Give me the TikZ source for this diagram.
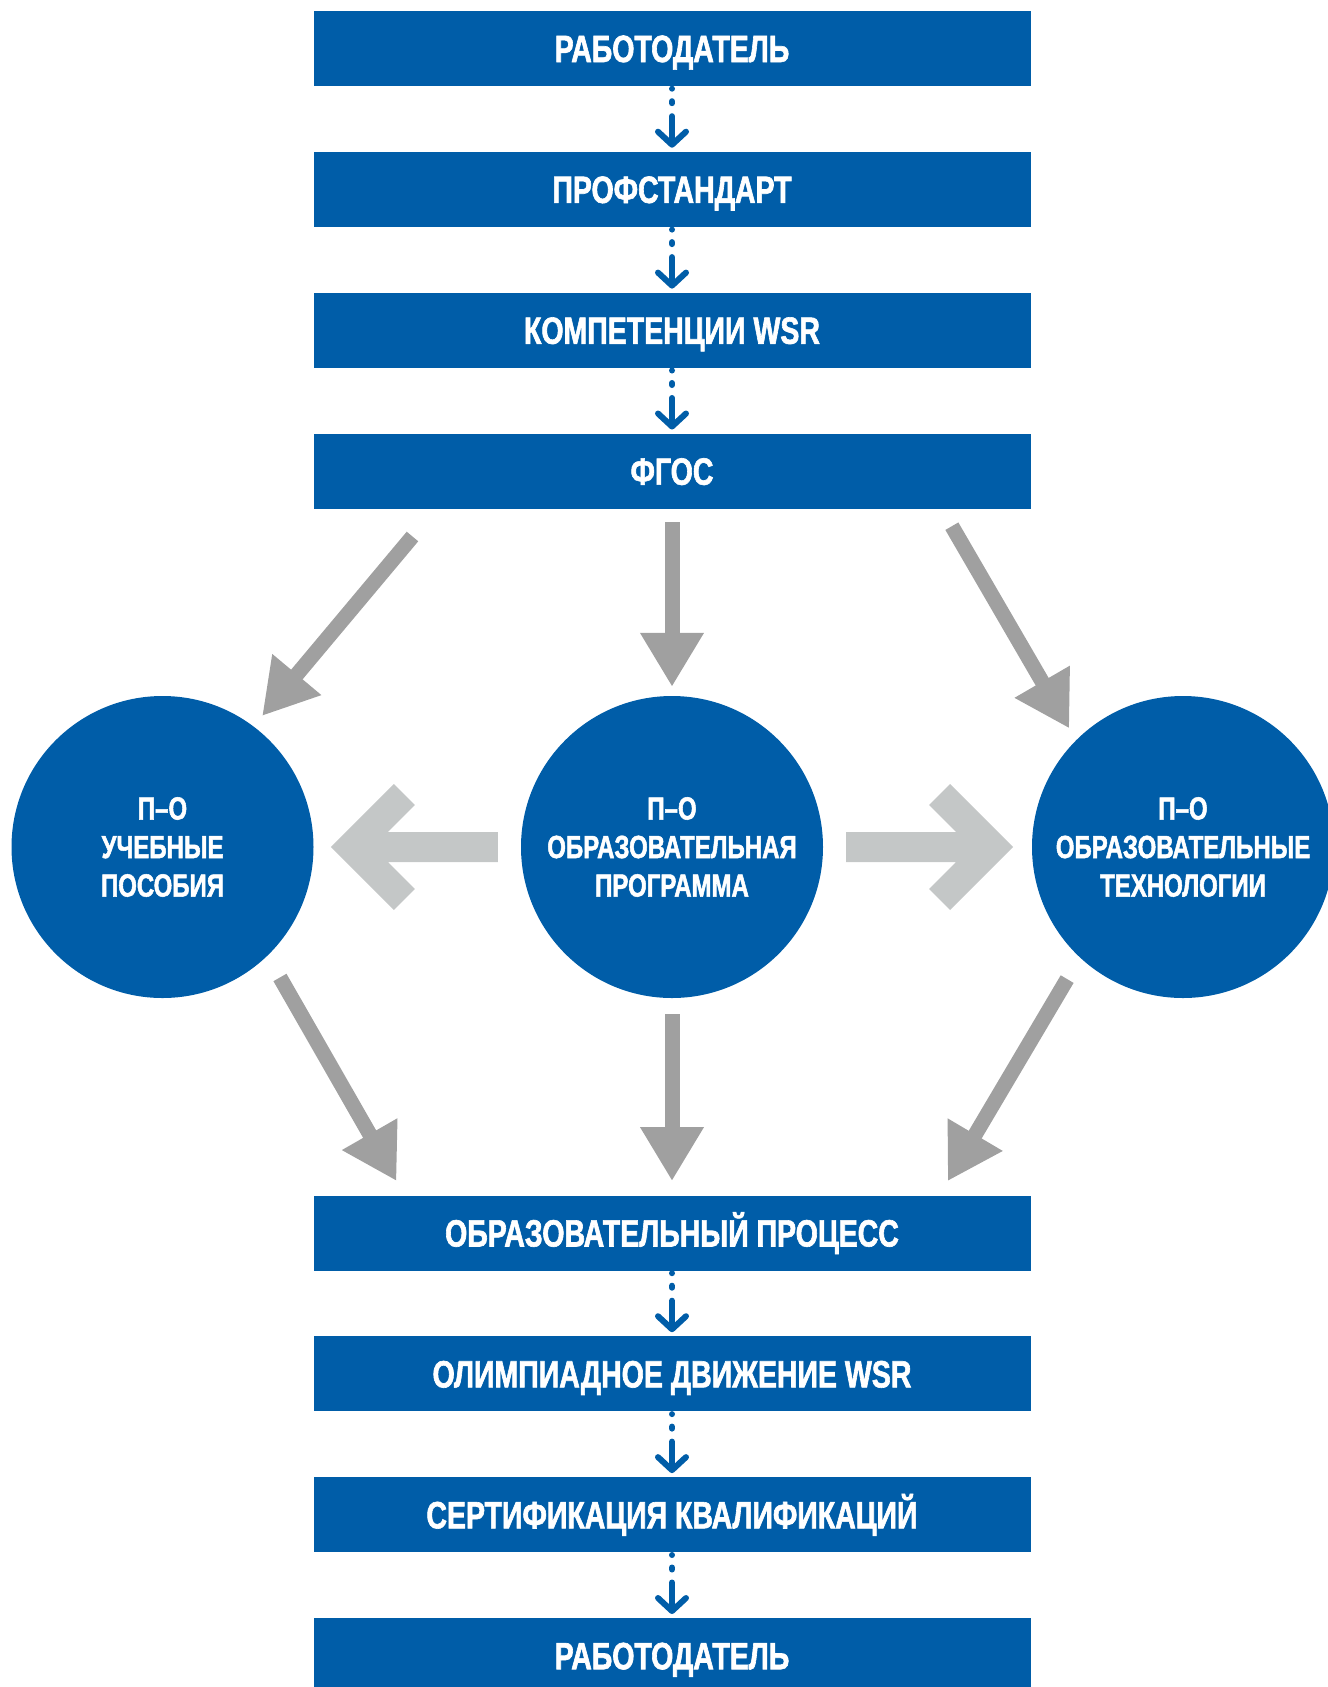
\documentclass[tikz,border=0pt]{standalone}
\usepackage{fontspec}
\usetikzlibrary{arrows.meta}
\usetikzlibrary{positioning}
\newfontfamily\condfont{Liberation Sans}[FakeStretch=0.75, FakeBold=1.6]
\definecolor{wsblue}{RGB}{0,93,168}
\definecolor{arrgray}{RGB}{160,160,160}
\definecolor{chevgray}{RGB}{196,199,199}

\begin{document}
\begin{tikzpicture}[x=1pt, y=-1pt,
    level/.style = {rectangle, fill=wsblue, text=white, minimum width=717pt,
                    minimum height=75pt, inner sep=0pt, text height=27pt, text depth=0pt,
                    font=\condfont\bfseries\fontsize{38}{44}\selectfont},
    tool/.style = {circle, fill=wsblue, text=white, minimum size=302pt, inner sep=0pt,
                   align=center, font=\condfont\bfseries\fontsize{32}{38.5}\selectfont}]
		\tikzset{flow/.style = {wsblue, line width=6pt, line cap=round,
		           dash pattern=on 0pt off 12.5pt on 2pt off 13pt on 100pt off 0pt,
		           shorten <=2.5pt, shorten >=4pt,
		           -{Straight Barb[length=13pt, width=28pt, round]}},
		         feed/.style = {arrgray, line width=15pt, -{Triangle[length=54pt, width=60pt]}},
		         fork/.style = {chevgray}}
		\useasboundingbox (0,0) rectangle (1328,1687);
		\node[level] (rab1) at (672,48.5) {РАБОТОДАТЕЛЬ};
		\node[level, below=65.5pt of rab1] (prof) {ПРОФСТАНДАРТ};
		\node[level, below=65.5pt of prof] (komp) {КОМПЕТЕНЦИИ WSR};
		\node[level, below=65.5pt of komp] (fgos) {ФГОС};
		\node[tool] (poso) at (162.5,847) {П–О\\УЧЕБНЫЕ\\ПОСОБИЯ};
		\node[tool] (prog) at (672,847) {П–О\\ОБРАЗОВАТЕЛЬНАЯ\\ПРОГРАММА};
		\node[tool] (tech) at (1183,847) {П–О\\ОБРАЗОВАТЕЛЬНЫЕ\\ТЕХНОЛОГИИ};
		\node[level] (obproc) at (672,1233) {ОБРАЗОВАТЕЛЬНЫЙ ПРОЦЕСС};
		\node[level, below=65.5pt of obproc] (olymp) {ОЛИМПИАДНОЕ ДВИЖЕНИЕ WSR};
		\node[level, below=65.5pt of olymp] (sert) {СЕРТИФИКАЦИЯ КВАЛИФИКАЦИЙ};
		\node[level, below=65.5pt of sert] (rab2) {РАБОТОДАТЕЛЬ};
		\draw[flow] (rab1) -- (prof);
		\draw[flow] (prof) -- (komp);
		\draw[flow] (komp) -- (fgos);
		\draw[flow] (obproc) -- (olymp);
		\draw[flow] (olymp) -- (sert);
		\draw[flow] (sert) -- (rab2);
		\draw[feed, shorten <=36pt, shorten >=13.5pt] ([xshift=-236.4pt]fgos.south) -- (poso.53);
		\draw[feed, shorten <=13.5pt, shorten >=9pt] (fgos) -- (prog);
		\draw[feed, shorten <=20pt, shorten >=13.5pt] ([xshift=269.8pt]fgos.south) -- (tech.135.3);
		\draw[feed, shorten <=25pt, shorten >=16.5pt] (poso.-46.5) -- ([xshift=-267.3pt]obproc.north);
		\draw[feed, shorten <=16pt, shorten >=14.3pt] (prog) -- (obproc);
		\draw[feed, shorten <=25pt, shorten >=16.5pt] (tech.-133.5) -- ([xshift=267.3pt]obproc.north);
		\fill[fork] ([shift={(-23,-15)}]prog.west) -- ++(-110,0) -- ++(27,-27) -- ++(-21,-21)
			-- ++(-63,63) -- ++(63,63) -- ++(21,-21) -- ++(-27,-27) -- ++(110,0) -- cycle;
		\fill[fork] ([shift={(23,-15)}]prog.east) -- ++(110,0) -- ++(-27,-27) -- ++(21,-21)
			-- ++(63,63) -- ++(-63,63) -- ++(-21,-21) -- ++(27,-27) -- ++(-110,0) -- cycle;
\end{tikzpicture}
\end{document}
